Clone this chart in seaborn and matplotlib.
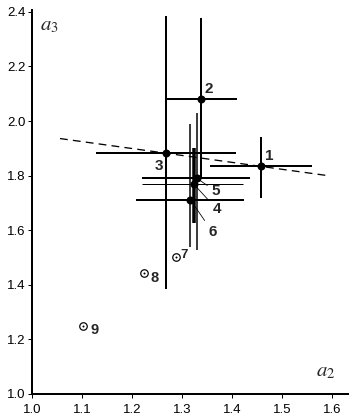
import numpy as np
import pandas as pd
import matplotlib
matplotlib.use("Agg")
import matplotlib.pyplot as plt
import seaborn as sns

# ---- values ----
labels = ["1", "2", "3", "4", "5", "6"]
a2 = [1.458, 1.337, 1.268, 1.324, 1.330, 1.317]
a3 = [1.834, 2.082, 1.882, 1.768, 1.790, 1.711]
a2_lo = [1.356, 1.269, 1.128, 1.220, 1.220, 1.208]
a2_hi = [1.560, 1.409, 1.408, 1.422, 1.436, 1.424]
a3_lo = [1.717, 1.786, 1.384, 1.625, 1.527, 1.537]
a3_hi = [1.940, 2.378, 2.386, 1.903, 2.031, 1.991]

open_labels = ["7", "8", "9"]
open_a2 = [1.288, 1.224, 1.103]
open_a3 = [1.502, 1.443, 1.249]

trend_a2 = [1.056, 1.596]
trend_a3 = [1.936, 1.799]

xticks = [1.0, 1.1, 1.2, 1.3, 1.4, 1.5, 1.6]
yticks = [1.0, 1.2, 1.4, 1.6, 1.8, 2.0, 2.2, 2.4]

# ---- styles (px) ----
PX = 72 / 100
h_lw = [2, 2, 2, 1, 2, 2]
v_lw = [2, 2, 2, 3.5, 1.5, 1.5]
# label offsets in pixels (dx, dy up)
lab_off = {"1": (8, 10), "2": (8, 10), "3": (-7, -13),
           "5": (19, -13), "4": (23, -25), "6": (22, -32)}
open_off = {"7": (8, 2), "8": (11, -5), "9": (11, -4)}

sns.set_theme(style="ticks")
plt.rcParams["font.family"] = ["Liberation Sans", "DejaVu Sans"]
plt.rcParams["mathtext.fontset"] = "stix"

df = pd.DataFrame({"a2": a2, "a3": a3, "lab": labels})
df_open = pd.DataFrame({"a2": open_a2, "a3": open_a3, "lab": open_labels})

fig = plt.figure(figsize=(3.52, 4.20), dpi=100)
ax = fig.add_axes([32 / 352, 26 / 420, 316 / 352, 384 / 420])

# error bars
for i in range(len(labels)):
    ax.hlines(a3[i], a2_lo[i], a2_hi[i], color="black", lw=h_lw[i] * PX, zorder=2)
    ax.vlines(a2[i], a3_lo[i], a3_hi[i], color="black", lw=v_lw[i] * PX, zorder=2)

# dashed trend
sns.lineplot(x=trend_a2, y=trend_a3, ax=ax, color="black", lw=1.3 * PX,
             linestyle=(0, (6, 4)), zorder=1)

# filled points
sns.scatterplot(data=df, x="a2", y="a3", ax=ax, color="black", s=(8 * PX) ** 2,
                edgecolor="black", linewidth=0, zorder=3, legend=False)

# open points with centre dot
sns.scatterplot(data=df_open, x="a2", y="a3", ax=ax, facecolor="white",
                edgecolor="black", s=(7.5 * PX) ** 2, linewidth=1.2 * PX,
                zorder=3, legend=False)
sns.scatterplot(data=df_open, x="a2", y="a3", ax=ax, color="black",
                s=(2 * PX) ** 2, linewidth=0, zorder=4, legend=False)

# labels
for i, lab in enumerate(labels):
    dx, dy = lab_off[lab]
    if lab in ("4", "5", "6"):
        ax.annotate(lab, xy=(a2[i], a3[i]), xytext=(dx, dy), textcoords="offset pixels",
                    ha="center", va="center", fontsize=11, fontweight="bold",
                    arrowprops=dict(arrowstyle="-", lw=0.8 * PX, color="black",
                                    shrinkA=1, shrinkB=3))
    else:
        ax.annotate(lab, xy=(a2[i], a3[i]), xytext=(dx, dy), textcoords="offset pixels",
                    ha="center", va="center", fontsize=11, fontweight="bold")
for i, lab in enumerate(open_labels):
    dx, dy = open_off[lab]
    ax.annotate(lab, xy=(open_a2[i], open_a3[i]), xytext=(dx, dy),
                textcoords="offset pixels", ha="center", va="center",
                fontsize=10.5 if lab != "7" else 9.5, fontweight="bold")

ax.set_xlim(1.0, 1.632)
ax.set_ylim(1.0, 2.407)
ax.set_xticks(xticks)
ax.set_yticks(yticks)
ax.set_xticklabels([f"{t:.1f}" for t in xticks])
ax.set_yticklabels([f"{t:.1f}" for t in yticks])
ax.set_xlabel("")
ax.set_ylabel("")
sns.despine(ax=ax)
for s in ("left", "bottom"):
    ax.spines[s].set_linewidth(2 * PX)
    ax.spines[s].set_color("black")
ax.tick_params(axis="both", colors="black", labelsize=9.5, width=1 * PX,
               length=4 * PX)
ax.tick_params(axis="y", pad=1.5)
ax.tick_params(axis="x", pad=4)

ax.text(0.025, 0.985, "$a_3$", transform=ax.transAxes, fontsize=15,
        ha="left", va="top")
ax.text(0.90, 0.035, "$a_2$", transform=ax.transAxes, fontsize=15,
        ha="left", va="bottom")

fig.savefig("out.png", dpi=100, facecolor="white")
